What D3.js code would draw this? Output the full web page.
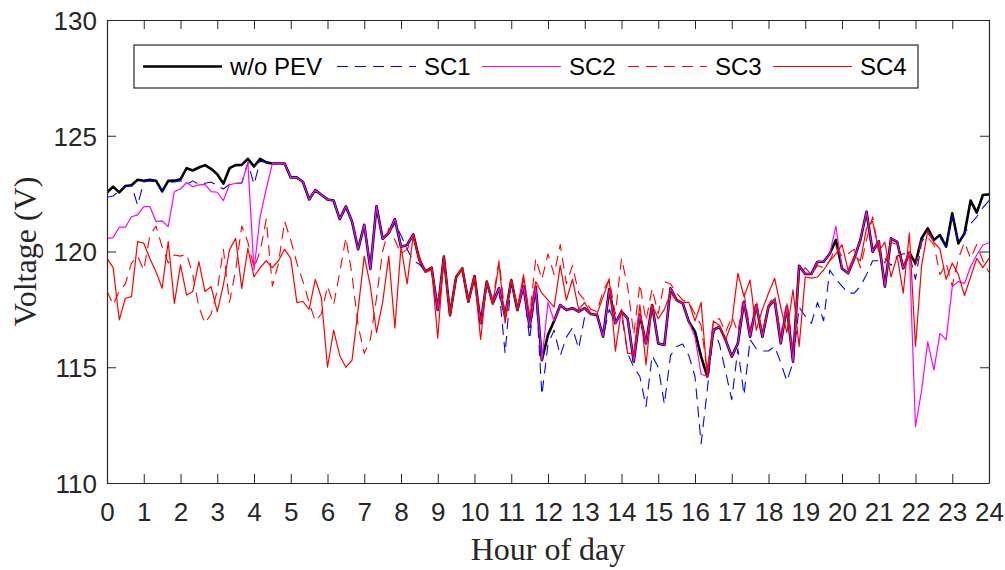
<!DOCTYPE html>
<html>
<head>
	<script src="https://cdn.jsdelivr.net/npm/d3@7/dist/d3.min.js"></script>
	<style>
		body { margin: 0; background: #fff; }
	</style>
</head>
<body>
	<script>
		// bus voltage over the day, one value every 10 minutes (0h .. 24h)
		var woPEV = [
			122.55, 122.8, 122.55, 122.83, 122.86, 123.1, 123.06, 123.1, 123.06, 122.6, 123.05, 123.06, 123.12, 123.6, 123.5, 123.63, 123.73, 123.57, 123.34, 122.93, 123.6, 123.73, 123.74, 124.0, 123.67,
			124.0, 123.85, 123.8, 123.8, 123.8, 123.2, 123.2, 123.0, 122.25, 122.65, 122.45, 122.25, 122.2, 121.4, 121.95, 121.3, 120.1, 121.15, 119.25, 121.95, 120.55, 120.8, 121.4, 120.2,
			120.28, 120.74, 119.63, 119.13, 119.3, 117.47, 119.78, 117.26, 118.9, 119.27, 117.83, 118.94, 116.9, 118.7, 117.76, 118.41, 117.19, 118.77, 117.47, 118.51, 116.75, 118.48, 115.3, 116.4,
			117.0, 117.69, 117.47, 117.55, 117.4, 117.55, 117.3, 117.26, 116.32, 118.37, 116.9, 117.4, 117.11, 115.24, 117.26, 116.03, 117.69, 116.03, 115.96, 118.41, 117.9, 117.76, 116.97, 116.54,
			115.46, 114.6, 116.61, 116.75, 116.18, 115.46, 116.03, 117.83, 116.32, 117.69, 116.32, 117.62, 117.91, 116.03, 117.62, 115.24, 119.38, 119.03, 119.03, 119.56, 119.56, 119.9, 120.5, 119.27,
			119.06, 119.7, 120.5, 121.72, 119.99, 120.45, 118.48, 120.57, 120.42, 119.27, 119.95, 119.49, 120.57, 121.0, 120.5, 120.71, 120.21, 121.65, 120.35, 120.78, 122.2, 121.68, 122.44, 122.47
		];

		var sc1 = [
			122.34, 122.4, 122.6, 122.8, 122.85, 122.0, 123.0, 123.05, 123.0, 122.65, 123.0, 123.0, 123.05, 122.9, 123.05, 122.9, 122.95, 123.0, 122.85, 122.7, 122.9, 122.95, 122.95, 123.85, 122.9,
			123.9, 123.85, 123.8, 123.8, 123.8, 123.2, 123.2, 123.0, 122.25, 122.65, 122.45, 122.25, 122.2, 121.4, 121.95, 121.3, 120.1, 121.15, 119.25, 121.95, 120.55, 120.8, 121.2, 120.7,
			120.1, 119.6, 119.45, 119.13, 119.3, 117.47, 119.78, 117.26, 118.9, 119.27, 117.83, 118.94, 116.9, 118.7, 117.76, 118.41, 115.6, 118.77, 117.47, 118.51, 116.2, 118.48, 113.8, 116.0,
			116.6, 115.5, 116.3, 116.7, 115.8, 117.2, 117.3, 117.26, 116.32, 117.5, 116.9, 117.3, 115.6, 115.0, 114.6, 113.3, 115.5, 115.0, 113.4, 115.5, 115.9, 116.0, 115.5, 114.6,
			111.7, 114.0, 116.6, 116.0, 114.8, 113.6, 115.8, 113.8, 116.2, 115.8, 115.7, 115.7, 115.9, 115.2, 114.4, 115.2, 117.6, 117.2, 116.9, 117.8, 117.0, 119.2, 118.8, 118.5,
			118.2, 118.2, 118.5, 119.0, 119.6, 119.6, 119.7, 119.4, 119.8, 119.9, 119.9, 118.8, 120.4, 120.8, 120.45, 120.6, 120.2, 121.5, 120.4, 120.8, 121.2, 121.5, 121.9, 122.2
		];

		var sc2 = [
			120.57, 120.6, 121.05, 121.05, 121.5, 121.58, 121.94, 121.94, 121.3, 121.32, 121.08, 122.59, 122.7, 122.98, 122.8, 122.88, 122.9, 122.59, 122.56, 122.2, 122.88, 122.95, 122.95, 123.84, 119.2,
			121.5, 122.7, 123.8, 123.8, 123.8, 123.2, 123.2, 123.0, 122.25, 122.65, 122.45, 122.25, 122.2, 121.4, 121.95, 121.3, 120.1, 121.15, 119.25, 121.95, 120.55, 120.8, 121.4, 120.2,
			120.28, 120.74, 119.63, 119.13, 119.3, 117.47, 119.78, 117.26, 118.9, 119.27, 117.83, 118.94, 116.9, 118.7, 117.76, 118.41, 117.19, 118.77, 117.47, 118.51, 116.75, 118.48, 115.3, 117.8,
			117.0, 117.69, 117.47, 117.55, 117.4, 117.55, 117.3, 117.26, 116.32, 118.37, 116.9, 117.4, 117.11, 115.24, 117.26, 116.03, 117.69, 116.03, 115.96, 118.41, 117.9, 117.76, 116.97, 116.3,
			114.7, 114.6, 116.61, 116.75, 116.18, 115.46, 116.03, 117.83, 116.32, 117.69, 116.32, 117.62, 117.91, 116.03, 117.62, 115.24, 119.38, 119.03, 119.03, 119.56, 119.56, 119.9, 121.1, 119.27,
			119.06, 119.7, 120.5, 121.72, 119.99, 120.45, 118.48, 120.57, 120.42, 119.27, 119.95, 112.43, 114.0, 116.1, 114.88, 116.46, 116.18, 118.48, 118.7, 118.62, 119.34, 119.85, 120.28, 120.38
		];

		var sc3 = [
			118.3, 117.7, 118.3, 118.6, 119.5, 119.8, 119.2, 120.7, 121.1, 120.2, 119.5, 119.85, 119.8, 119.9, 119.0, 117.6, 116.9, 117.3, 118.3, 120.1, 117.8, 119.2, 121.1, 120.4, 119.3,
			120.0, 121.4, 118.5, 119.5, 121.3, 120.5, 119.5, 118.7, 117.8, 117.0, 117.3, 118.5, 117.7, 119.1, 120.6, 119.0, 116.8, 115.6, 116.2, 118.0, 120.0, 121.0, 120.5, 119.9,
			120.1, 120.6, 119.8, 119.1, 119.2, 117.6, 119.6, 117.4, 118.9, 119.2, 117.9, 119.0, 117.0, 118.6, 117.9, 119.6, 117.3, 118.7, 117.6, 118.8, 117.2, 119.7, 118.8, 119.9,
			119.0, 120.3, 118.6, 119.4, 118.2, 117.9, 117.5, 117.4, 118.3, 118.8, 117.3, 119.7, 118.5, 116.4, 118.6, 117.0, 118.4, 117.3, 118.7, 118.6, 118.2, 117.9, 117.8, 117.3,
			116.8, 114.8, 117.0, 117.1, 116.5, 117.2, 116.5, 118.2, 116.6, 117.9, 116.5, 117.7, 118.1, 116.4, 117.8, 115.8, 118.9, 119.3, 119.0, 119.4, 119.3, 119.6, 120.2, 119.8,
			119.9, 120.1, 119.3, 120.5, 121.5, 120.0, 119.5, 120.4, 120.3, 119.4, 119.8, 119.4, 120.5, 120.6, 120.3, 119.0, 119.5, 118.5, 119.7, 120.4, 119.7, 120.3, 119.6, 119.1
		];

		var sc4 = [
			119.7, 119.3, 117.05, 117.98, 118.05, 120.43, 120.36, 119.7, 119.13, 118.41, 120.43, 117.76, 119.42, 118.12, 118.27, 119.56, 118.27, 118.48, 117.4, 118.56, 120.07, 120.57, 118.41, 120.14, 118.9,
			119.3, 119.6, 119.3, 119.6, 120.1, 119.7, 117.8, 117.84, 117.5, 118.8, 118.0, 115.0, 116.6, 115.5, 115.0, 115.3, 117.5, 119.8, 118.5, 116.5, 117.8, 119.8, 116.7, 120.2,
			118.6, 120.7, 119.6, 119.1, 119.3, 116.25, 119.8, 117.2, 118.9, 119.3, 117.8, 118.9, 116.2, 118.7, 117.7, 119.5, 116.9, 118.8, 117.5, 119.0, 117.2, 118.7, 118.2, 117.9,
			117.6, 119.4, 117.9, 118.8, 117.5, 117.8, 117.3, 117.3, 118.05, 118.8, 115.7, 117.5, 115.6, 115.6, 117.7, 115.1, 117.7, 117.1, 117.5, 118.2, 117.9, 117.8, 117.8, 117.0,
			117.8, 114.6, 117.0, 116.8, 116.2, 116.9, 119.06, 118.05, 118.77, 116.6, 117.5, 118.2, 118.84, 117.6, 116.5, 118.34, 115.9, 118.9, 118.85, 118.9, 119.2, 119.6, 119.9, 120.3,
			119.2, 119.8, 119.6, 121.0, 121.3, 120.0, 120.4, 118.9, 119.8, 118.2, 120.8, 115.9, 119.4, 120.9, 120.4, 120.1, 118.8, 119.5, 119.0, 118.1, 118.9, 119.7, 119.3, 119.7
		];

		var seriesNames = ['w/o PEV', 'SC1', 'SC2', 'SC3', 'SC4'];
		var hourTicks = d3.range(0, 25);
		var voltTicks = [110, 115, 120, 125, 130];

		var width = 1005, height = 570;
		// plot box (note: "top" is a reserved window name, so prefix everything)
		var boxLeft = 107, boxRight = 989, boxTop = 20, boxBottom = 483;
		var ink = '#262626';

		var series = [
			{ name: seriesNames[0], values: woPEV, color: '#000000', w: 2.6, dash: null },
			{ name: seriesNames[1], values: sc1, color: '#0000ff', w: 1.1, dash: '11,7' },
			{ name: seriesNames[2], values: sc2, color: '#ff00ff', w: 1.2, dash: null },
			{ name: seriesNames[3], values: sc3, color: '#ff0000', w: 1.1, dash: '11,7' },
			{ name: seriesNames[4], values: sc4, color: '#ff0000', w: 1.2, dash: null }
		];

		var x = d3.scaleLinear().domain([0, 24]).range([boxLeft, boxRight]);
		var y = d3.scaleLinear().domain([110, 130]).range([boxBottom, boxTop]);

		var svg = d3.select('body').append('svg')
			.attr('width', width)
			.attr('height', height)
			.style('display', 'block');

		svg.append('clipPath').attr('id', 'plot')
			.append('rect')
			.attr('x', boxLeft).attr('y', boxTop)
			.attr('width', boxRight - boxLeft).attr('height', boxBottom - boxTop);

		// the lines, 10 minutes apart
		var line = d3.line()
			.x(function (d, i) { return x(i / 6); })
			.y(function (d) { return y(d); });

		svg.append('g').attr('clip-path', 'url(#plot)')
			.selectAll('path')
			.data(series)
			.enter().append('path')
			.attr('d', function (s) { return line(s.values); })
			.attr('fill', 'none')
			.attr('stroke', function (s) { return s.color; })
			.attr('stroke-width', function (s) { return s.w; })
			.attr('stroke-dasharray', function (s) { return s.dash; })
			.attr('stroke-linejoin', 'round');

		// axes on all four sides, ticks pointing in
		var tickLen = 9;
		var fontTick = '26px "Liberation Sans", Arial, sans-serif';

		var gx = svg.append('g').attr('transform', 'translate(0,' + boxBottom + ')')
			.call(d3.axisBottom(x).tickValues(hourTicks).tickSizeInner(-tickLen).tickSizeOuter(0).tickPadding(20));
		var gxTop = svg.append('g').attr('transform', 'translate(0,' + boxTop + ')')
			.call(d3.axisTop(x).tickValues(hourTicks).tickSizeInner(-tickLen).tickSizeOuter(0).tickFormat(''));
		var gy = svg.append('g').attr('transform', 'translate(' + boxLeft + ',0)')
			.call(d3.axisLeft(y).tickValues(voltTicks).tickSizeInner(-tickLen).tickSizeOuter(0).tickPadding(10));
		var gyRight = svg.append('g').attr('transform', 'translate(' + boxRight + ',0)')
			.call(d3.axisRight(y).tickValues(voltTicks).tickSizeInner(-tickLen).tickSizeOuter(0).tickFormat(''));

		[gx, gxTop, gy, gyRight].forEach(function (g) {
			g.select('.domain').attr('stroke', ink).attr('stroke-width', 1.2);
			g.selectAll('.tick line').attr('stroke', ink).attr('stroke-width', 1);
			g.selectAll('.tick text').style('font', fontTick).attr('fill', ink);
		});
		gy.selectAll('.tick text').attr('dy', '0.36em');

		// axis titles
		svg.append('text')
			.attr('x', (boxLeft + boxRight) / 2)
			.attr('y', 560)
			.attr('text-anchor', 'middle')
			.style('font', '32px "Liberation Serif", "Times New Roman", serif')
			.attr('fill', ink)
			.text('Hour of day');

		svg.append('text')
			.attr('transform', 'translate(36,' + (boxTop + boxBottom) / 2 + ') rotate(-90)')
			.attr('text-anchor', 'middle')
			.style('font', '32px "Liberation Serif", "Times New Roman", serif')
			.attr('fill', ink)
			.text('Voltage (V)');

		// legend
		var legend = svg.append('g');
		legend.append('rect')
			.attr('x', 134).attr('y', 45)
			.attr('width', 784).attr('height', 43)
			.attr('fill', '#fff')
			.attr('stroke', ink)
			.attr('stroke-width', 1.2);

		var legendX = [143, 337, 482, 628, 773];
		var items = legend.selectAll('g.item')
			.data(series)
			.enter().append('g')
			.attr('class', 'item')
			.attr('transform', function (s, i) { return 'translate(' + legendX[i] + ',66.5)'; });

		items.append('line')
			.attr('x1', 0).attr('x2', 79)
			.attr('stroke', function (s) { return s.color; })
			.attr('stroke-width', function (s) { return s.w; })
			.attr('stroke-dasharray', function (s) { return s.dash; });

		items.append('text')
			.attr('x', 87)
			.attr('dy', '0.36em')
			.style('font', '24px "Liberation Sans", Arial, sans-serif')
			.attr('fill', '#000')
			.text(function (s) { return s.name; });
	</script>
</body>
</html>
